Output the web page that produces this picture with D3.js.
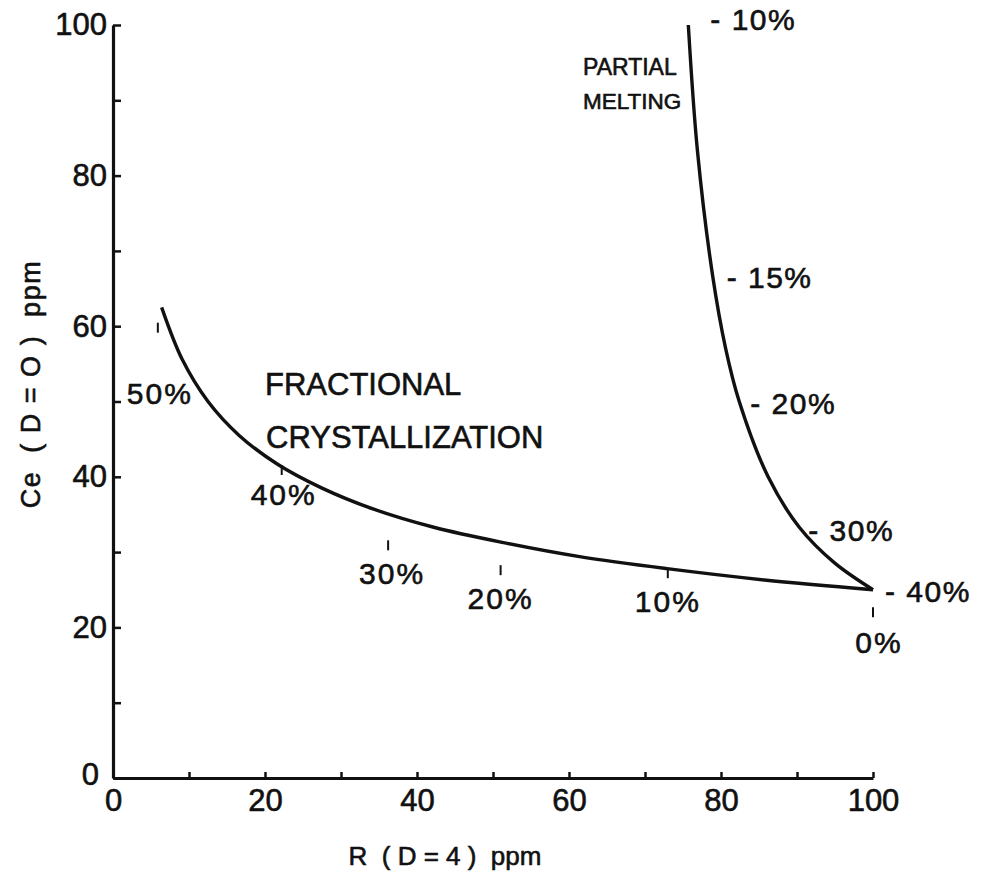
<!DOCTYPE html>
<html>
<head>
<meta charset="utf-8">
<script src="https://cdn.jsdelivr.net/npm/d3@7"></script>
<style>
  body { margin: 0; background: #fff; }
  svg { display: block; }
  text { font-family: "Liberation Sans", Arial, sans-serif; fill: #111; stroke: #111; stroke-width: 0.6px; }
</style>
</head>
<body>
<div id="chart"></div>
<script>
// values
var xTicks = [0, 10, 20, 30, 40, 50, 60, 70, 80, 90, 100];
var yTicks = [0, 10, 20, 30, 40, 50, 60, 70, 80, 90, 100];

// fractional crystallization path, [R ppm, Ce ppm]
var fcR  = [6.4, 9.1, 12.5, 16.6, 21.6, 27.5, 34.3, 42.2, 51.2, 61.4, 72.9, 85.7, 100];
var fcCe = [62.5, 55.6, 50.0, 45.5, 41.7, 38.5, 35.7, 33.3, 31.3, 29.4, 27.8, 26.3, 25];

// partial melting path, [R ppm, Ce ppm]
var pmR  = [75.7, 76.9, 78.9, 80.6, 82.4, 86.2, 90.3, 94.9, 100];
var pmCe = [100, 83.3, 66.7, 57.1, 50.0, 40.0, 33.3, 28.6, 25];

// tick marks along the crystallization curve
var fcMarkLabels = ["0%", "10%", "20%", "30%", "40%", "50%"];
var fcMarkR  = [100, 73, 51, 36.2, 22.2, 5.9];
var fcMarkCe = [22, 27.2, 27.6, 30.9, 40.9, 59.8];

// labels along the melting curve
var pmMarkLabels = ["- 10%", "- 15%", "- 20%", "- 30%", "- 40%"];
var pmMarkR  = [75.7, 78.9, 82.4, 90.3, 100];
var pmMarkCe = [100, 66.7, 50.0, 33.3, 25];

var width = 1000, height = 883;

var svg = d3.select("#chart").append("svg")
  .attr("width", width)
  .attr("height", height);

var x = d3.scaleLinear().domain([0, 100]).range([113, 873]);
var y = d3.scaleLinear().domain([0, 100]).range([778, 25]);

var xAxis = d3.axisBottom(x)
  .tickValues(xTicks)
  .tickSizeInner(-6)
  .tickSizeOuter(0)
  .tickPadding(16)
  .tickFormat(function (d) { return d % 20 === 0 ? d : ""; });

var yAxis = d3.axisLeft(y)
  .tickValues(yTicks)
  .tickSizeInner(-8)
  .tickSizeOuter(0)
  .tickPadding(6)
  .tickFormat(function (d) { return d % 20 === 0 ? d : ""; });

var gx = svg.append("g")
  .attr("transform", "translate(0," + y(0) + ")")
  .call(xAxis);

var gy = svg.append("g")
  .attr("transform", "translate(" + x(0) + ",0)")
  .call(yAxis);

[gx, gy].forEach(function (g) {
  g.select(".domain").attr("stroke", "#111").attr("stroke-width", 3.2);
  g.selectAll(".tick line").attr("stroke", "#111").attr("stroke-width", 2.5);
  g.selectAll(".tick text")
    .attr("font-size", 31)
    .attr("font-family", "Liberation Sans, Arial, sans-serif")
    .attr("fill", "#111");
});
gx.selectAll(".tick text").attr("dy", "0.55em");
// the 0 on the y axis sits a little left and low
gy.selectAll(".tick").filter(function (d) { return d === 0; }).select("text")
  .attr("x", -14).attr("dy", "0.2em");

var line = d3.line()
  .x(function (d) { return x(d[0]); })
  .y(function (d) { return y(d[1]); })
  .curve(d3.curveCatmullRom.alpha(0.5));

var fcData = fcR.map(function (r, i) { return [r, fcCe[i]]; });
var pmData = pmR.map(function (r, i) { return [r, pmCe[i]]; });

svg.append("path")
  .datum(fcData)
  .attr("d", line)
  .attr("fill", "none")
  .attr("stroke", "#111")
  .attr("stroke-width", 3.4);

svg.append("path")
  .datum(pmData)
  .attr("d", line)
  .attr("fill", "none")
  .attr("stroke", "#111")
  .attr("stroke-width", 3.4);

// crystallization marks: short vertical tick with the label under it
var fcLabelOffset = [[6, 30], [0, 28], [0, 28], [4, 28], [2, 24], [2, 66]];
fcMarkLabels.forEach(function (lab, i) {
  var px = x(fcMarkR[i]), py = y(fcMarkCe[i]);
  svg.append("line")
    .attr("x1", px).attr("x2", px)
    .attr("y1", py - 5).attr("y2", py + 5)
    .attr("stroke", "#111").attr("stroke-width", 2);
  svg.append("text")
    .attr("x", px + fcLabelOffset[i][0])
    .attr("y", py + fcLabelOffset[i][1])
    .attr("text-anchor", "middle")
    .attr("dominant-baseline", "central")
    .attr("font-size", 30)
    .attr("letter-spacing", 2)
    .text(lab);
});

// melting labels to the right of the curve
var pmLabelOffset = [[22, -6], [14, 2], [11, 2], [9, 3], [12, 2]];
pmMarkLabels.forEach(function (lab, i) {
  svg.append("text")
    .attr("x", x(pmMarkR[i]) + pmLabelOffset[i][0])
    .attr("y", y(pmMarkCe[i]) + pmLabelOffset[i][1])
    .attr("dominant-baseline", "central")
    .attr("font-size", 30)
    .attr("letter-spacing", 1.5)
    .style("white-space", "pre")
    .text(lab);
});

// curve names
svg.append("text").attr("x", 583).attr("y", 67)
  .attr("dominant-baseline", "central").attr("font-size", 23).text("PARTIAL");
svg.append("text").attr("x", 583).attr("y", 101)
  .attr("dominant-baseline", "central").attr("font-size", 22.5).text("MELTING");
svg.append("text").attr("x", 265).attr("y", 384)
  .attr("dominant-baseline", "central").attr("font-size", 31).text("FRACTIONAL");
svg.append("text").attr("x", 266).attr("y", 437)
  .attr("dominant-baseline", "central").attr("font-size", 31).text("CRYSTALLIZATION");

// axis titles
svg.append("text")
  .attr("x", 445).attr("y", 856)
  .attr("text-anchor", "middle")
  .attr("dominant-baseline", "central")
  .attr("font-size", 26)
  .style("white-space", "pre")
  .text("R  ( D = 4 )  ppm");

svg.append("text")
  .attr("transform", "translate(31,384) rotate(-90)")
  .attr("text-anchor", "middle")
  .attr("dominant-baseline", "central")
  .attr("font-size", 27)
  .attr("letter-spacing", 1.5)
  .style("white-space", "pre")
  .text("Ce  ( D = O )  ppm");
</script>
</body>
</html>
